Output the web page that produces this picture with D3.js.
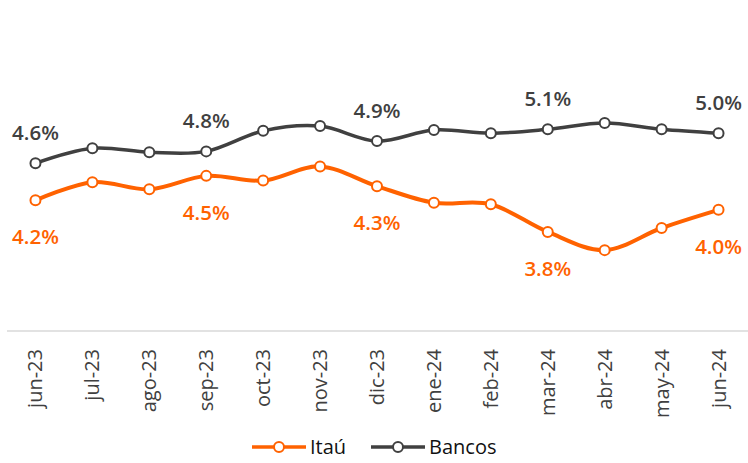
<!DOCTYPE html>
<html>
<head>
<meta charset="utf-8">
<script src="https://cdn.jsdelivr.net/npm/d3@7"></script>
<style>
  body { margin: 0; background: #fff; }
  text { font-family: "Open Sans", "Noto Sans", sans-serif; }
</style>
</head>
<body>
<div id="chart"></div>
<script>
// Datos
const months = ["jun-23", "jul-23", "ago-23", "sep-23", "oct-23", "nov-23", "dic-23",
  "ene-24", "feb-24", "mar-24", "abr-24", "may-24", "jun-24"];
const itau = [4.16, 4.39, 4.30, 4.47, 4.41, 4.59, 4.34, 4.13, 4.11, 3.76, 3.53, 3.81, 4.04];
const bancos = [4.63, 4.82, 4.77, 4.78, 5.04, 5.10, 4.91, 5.05, 5.01, 5.06, 5.14, 5.06, 5.01];
const labeled = [0, 3, 6, 9, 12];

const width = 748, height = 463;
const orange = "#ff6200", dark = "#404040";

const svg = d3.select("#chart").append("svg")
  .attr("width", width).attr("height", height);

const x = d3.scalePoint().domain(months).range([7, 747]).padding(0.5);
const y = d3.scaleLinear().domain([3, 6]).range([292, 55]);

// eje horizontal
svg.append("line")
  .attr("x1", 7).attr("x2", 748)
  .attr("y1", 331).attr("y2", 331)
  .attr("stroke", "#d9d9d9").attr("stroke-width", 1.5);

svg.selectAll(".xlab").data(months).enter().append("text")
  .attr("class", "xlab")
  .attr("transform", d => `translate(${x(d) + 7},349) rotate(-90)`)
  .attr("text-anchor", "end")
  .attr("font-size", 20)
  .attr("fill", "#404040")
  .text(d => d);

const line = d3.line()
  .x((d, i) => x(months[i]))
  .y(d => y(d))
  .curve(d3.curveCatmullRom.alpha(0));

const series = [
  { name: "Bancos", values: bancos, color: dark, width: 3.5, dy: -23 },
  { name: "Itaú", values: itau, color: orange, width: 4, dy: 44 }
];

series.forEach(s => {
  svg.append("path")
    .attr("d", line(s.values))
    .attr("fill", "none")
    .attr("stroke", s.color)
    .attr("stroke-width", s.width);

  svg.selectAll(null).data(s.values).enter().append("circle")
    .attr("cx", (d, i) => x(months[i]))
    .attr("cy", d => y(d))
    .attr("r", 5)
    .attr("fill", "#fff")
    .attr("stroke", s.color)
    .attr("stroke-width", 2);

  svg.selectAll(null).data(labeled).enter().append("text")
    .attr("x", i => x(months[i]))
    .attr("y", i => y(s.values[i]) + s.dy)
    .attr("text-anchor", "middle")
    .attr("font-size", 20.5)
    .attr("font-weight", 600)
    .attr("fill", s.color)
    .text(i => s.values[i].toFixed(1) + "%");
});

// Leyenda
const legend = [
  { name: "Itaú", color: orange, x: 252 },
  { name: "Bancos", color: dark, x: 371 }
];
legend.forEach(l => {
  const g = svg.append("g").attr("transform", `translate(${l.x},447)`);
  g.append("line").attr("x1", 0).attr("x2", 54)
    .attr("stroke", l.color).attr("stroke-width", 3.5);
  g.append("circle").attr("cx", 27).attr("r", 5)
    .attr("fill", "#fff").attr("stroke", l.color).attr("stroke-width", 2);
  g.append("text").attr("x", 58).attr("y", 7)
    .attr("font-size", 20).attr("fill", "#111").text(l.name);
});
</script>
</body>
</html>
